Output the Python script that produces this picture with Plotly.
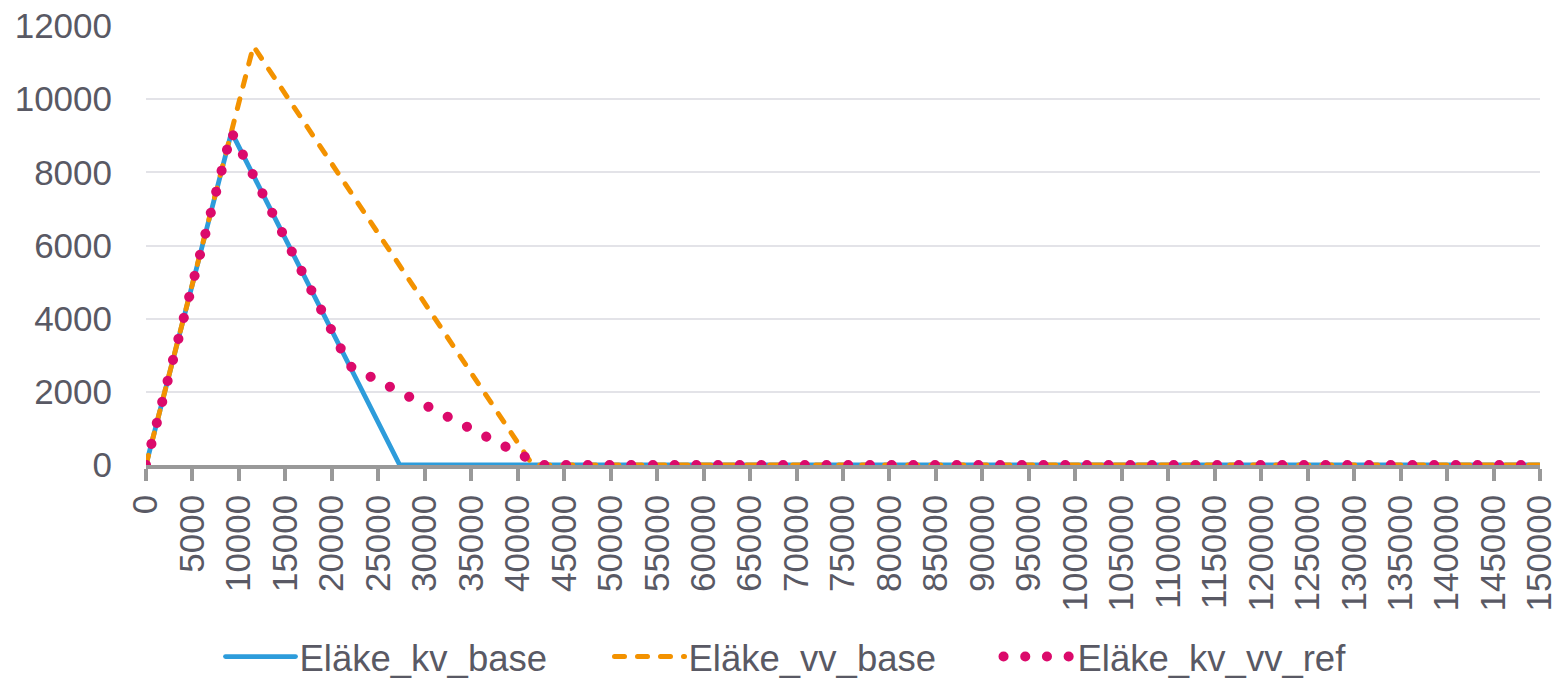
import plotly.graph_objects as go

# Breakpoints of each series (income -> pension)
kv_base_x = [0, 9200, 27300, 150000]
kv_base_y = [0, 9100, 0, 0]

vv_base_x = [0, 11550, 41600, 150000]
vv_base_y = [0, 11450, 0, 0]

kv_vv_ref_x = [0, 9200, 21900, 42500, 150000]
kv_vv_ref_y = [0, 9100, 2710, 0, 0]

series_names = ["Eläke_kv_base", "Eläke_vv_base", "Eläke_kv_vv_ref"]
x_ticks = list(range(0, 150001, 5000))
y_ticks = list(range(0, 12001, 2000))

TEXT = "#595964"
GRAY = "#999999"
FONT = "Liberation Sans, Arial, sans-serif"

fig = go.Figure()
fig.add_trace(go.Scatter(x=kv_base_x, y=kv_base_y, mode="lines", name=series_names[0],
                         line=dict(color="#2D9CDB", width=4.8), cliponaxis=False))
fig.add_trace(go.Scatter(x=vv_base_x, y=vv_base_y, mode="lines", name=series_names[1],
                         line=dict(color="#F39200", width=5, dash="10px,13px"), cliponaxis=False))
fig.add_trace(go.Scatter(x=kv_vv_ref_x, y=kv_vv_ref_y, mode="lines", name=series_names[2],
                         line=dict(color="#DB0A6B", width=10, dash="0.1px,21.6px"), cliponaxis=False))

fig.update_layout(
    width=1560, height=678,
    margin=dict(l=146, r=20, t=26, b=213, autoexpand=False),
    paper_bgcolor="white", plot_bgcolor="white",
    font=dict(family=FONT, size=35, color=TEXT),
    showlegend=True,
    legend=dict(orientation="h", x=0.5, xanchor="center", y=-0.437, yanchor="middle",
                font=dict(size=36.5, color=TEXT), entrywidth=344, entrywidthmode="pixels",
                itemwidth=30, bgcolor="rgba(0,0,0,0)"),
    xaxis=dict(range=[0, 150000], tickmode="array", tickvals=x_ticks,
               ticktext=[str(v) for v in x_ticks], tickangle=-90, automargin=False,
               showgrid=False, zeroline=False, showline=True, linecolor=GRAY, linewidth=3.5,
               ticks="outside", ticklen=12, tickwidth=3.5, tickcolor=GRAY,
               ticklabelstandoff=0,
               layer="below traces", tickfont=dict(size=35, color=TEXT)),
    xaxis2=dict(range=[0, 150000], overlaying="x", anchor="y", side="bottom",
                tickmode="array", tickvals=x_ticks, showticklabels=False,
                showgrid=False, zeroline=False, showline=False, automargin=False,
                ticks="inside", ticklen=10, tickwidth=3.5, tickcolor=GRAY,
                layer="below traces"),
    yaxis=dict(range=[0, 12000], tickmode="array", tickvals=y_ticks,
               ticktext=[str(v) for v in y_ticks], automargin=False,
               showgrid=True, gridcolor="#E3E3E8", gridwidth=2, zeroline=False,
               showline=False, ticks="", ticklabelstandoff=33,
               layer="below traces", tickfont=dict(size=35, color=TEXT)),
)

post = """
var s = document.createElement('style');
s.innerHTML = 'html, body { margin: 0; padding: 0; overflow: hidden; } path.js-line { stroke-linecap: round; }';
document.head.appendChild(s);
function fixLegend() {
  document.querySelectorAll('.legend .scrollbox').forEach(function(e){ e.removeAttribute('clip-path'); });
  document.querySelectorAll('.legend').forEach(function(e){ e.removeAttribute('clip-path'); });
  document.querySelectorAll('.legend .legendlines path.js-line').forEach(function(p){
    p.setAttribute('d', 'M-34,0h70');
  });
}
fixLegend();
setTimeout(fixLegend, 0);
var gd = document.getElementById('{plot_id}');
if (gd && gd.on) { gd.on('plotly_afterplot', fixLegend); }
"""
fig.write_html("out.html", post_script=post, config={"displayModeBar": False})
